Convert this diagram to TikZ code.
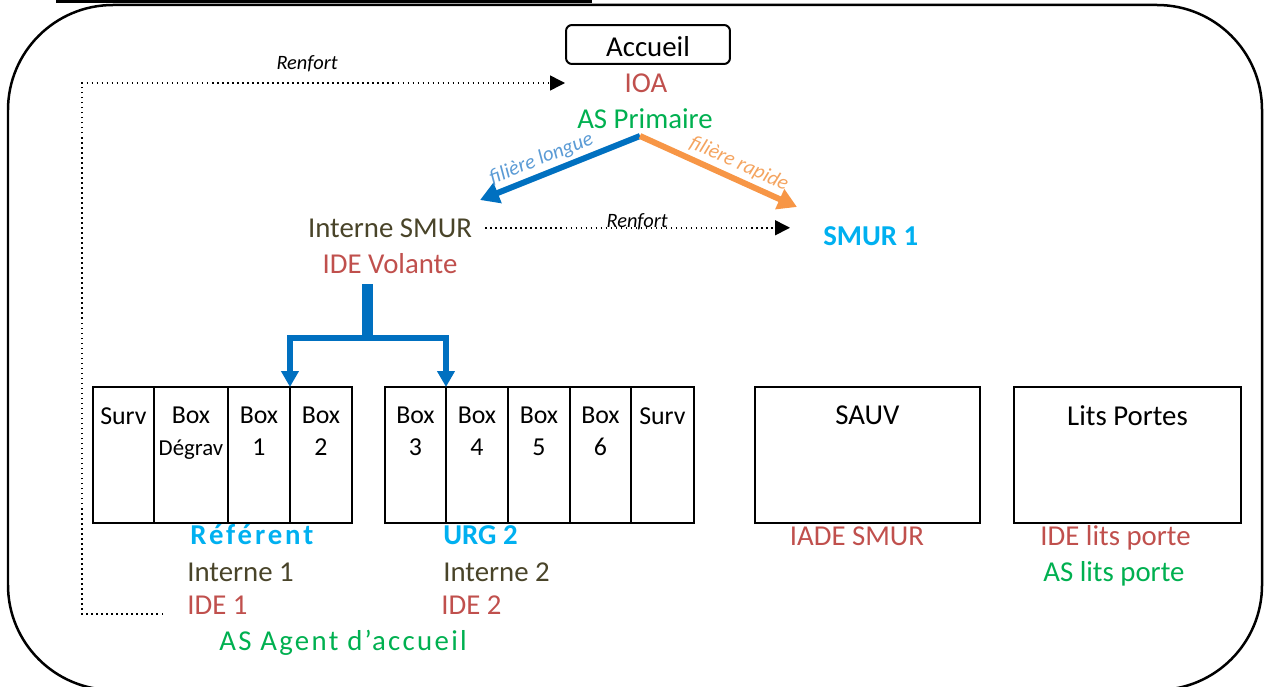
\documentclass[tikz,border=0pt]{standalone}
\usepackage{fontspec}
\setmainfont{Carlito}
\usetikzlibrary{arrows.meta,positioning}
\definecolor{rouge}{HTML}{C0504D}
\definecolor{vert}{HTML}{00B050}
\definecolor{olive}{HTML}{494429}
\definecolor{ciel}{HTML}{00B0F0}
\definecolor{bleu}{HTML}{0070C0}
\definecolor{bleuclair}{HTML}{5B9BD5}
\definecolor{orangef}{HTML}{F79646}
\definecolor{orangeclair}{HTML}{F4A460}

\begin{document}
\begin{tikzpicture}[x=0.02cm, y=-0.02cm,
    txt/.style={inner sep=0pt, font=\fontsize{16.4}{20}\selectfont},
    nom/.style={txt, anchor=base west},
    gras/.style={font=\fontsize{16.4}{20}\selectfont\bfseries\addfontfeature{LetterSpace=#1}},
    gras/.default=0,
    col/.style={draw, line width=0.04cm, minimum height=2.72cm, inner sep=0pt, outer sep=0pt},
    boxtxt/.style={anchor=north, inner sep=0pt, yshift=-0.4cm, align=center,
        font=\fontsize{14.7}{18.1}\selectfont},
    salletxt/.style={anchor=north, inner sep=0pt, yshift=-0.36cm, font=\fontsize{16.4}{20}\selectfont},
    renfort/.style={dotted, line width=0.03cm, -{Triangle[length=0.3cm,width=0.3cm]}},
    renlbl/.style={inner sep=0pt, font=\fontsize{11.6}{14}\selectfont\itshape},
    filiere/.style={line width=0.12cm, -{Triangle[length=0.38cm,width=0.42cm]}},
    fillbl/.style={inner sep=0.07cm, font=\fontsize{11.8}{14}\selectfont\itshape},
    arbre/.style={bleu, line width=0.12cm, -{Triangle[length=0.32cm,width=0.34cm]}}
  ]
    \useasboundingbox (0,0) rectangle (1266,686);
    \clip (0,0) rectangle (1266,686);
    \draw[line width=0.08cm] (56,1) -- (592,1);
    \draw[line width=0.05cm, rounded corners=2.1cm] (8,5) rectangle (1262,690);

    % accueil
    \node[draw, rounded corners=0.12cm, line width=0.04cm, txt, minimum width=3.28cm,
        minimum height=0.78cm, text height=0.5cm, text depth=0pt] (acc) at (648,44.5) {Accueil};
    \node[txt, anchor=base, text=rouge] (ioa) at (646,92) {IOA};
    \node[txt, anchor=base, text=vert] (asp) at (645,128) {AS Primaire};

    \node[txt, anchor=base, text=olive] (ism) at (390,237) {Interne SMUR};
    \node[txt, anchor=base, text=rouge] (ivol) at (390,273) {IDE Volante};
    \node[txt, gras, anchor=base west, text=ciel] (smur) at (823,245) {SMUR 1};

    \coordinate (dep) at (640,136);
    \coordinate (fl) at (480,200);
    \coordinate (fr) at (797,207);
    \draw[filiere, bleu] (dep) -- (fl)
        node[pos=0.58, sloped, above, fillbl, text=bleuclair] {filière longue};
    \draw[filiere, orangef] (dep) -- (fr)
        node[pos=0.59, sloped, above, fillbl, text=orangeclair] {filière rapide};

    \draw[renfort, shorten <=0.26cm, shorten >=0.66cm] (ism.east) -- (ism.east -| smur.west)
        node[pos=0.47, above=-0.06cm, renlbl] {Renfort};

    % boxes
    \node[col, minimum width=1.22cm, anchor=north west, label={[boxtxt]north:Surv}] (sv1) at (93,387) {};
    \node[col, minimum width=1.48cm, right=0pt of sv1,
        label={[boxtxt]north:{Box\\{\fontsize{13}{16}\selectfont Dégrav}}}] (bdg) {};
    \node[col, minimum width=1.24cm, right=0pt of bdg, label={[boxtxt]north:{Box\\1}}] (b1) {};
    \node[col, minimum width=1.24cm, right=0pt of b1, label={[boxtxt]north:{Box\\2}}] (b2) {};

    \node[col, minimum width=1.22cm, anchor=north west, label={[boxtxt]north:{Box\\3}}] (b3) at (385,387) {};
    \node[col, minimum width=1.24cm, right=0pt of b3, label={[boxtxt]north:{Box\\4}}] (b4) {};
    \node[col, minimum width=1.24cm, right=0pt of b4, label={[boxtxt]north:{Box\\5}}] (b5) {};
    \node[col, minimum width=1.22cm, right=0pt of b5, label={[boxtxt]north:{Box\\6}}] (b6) {};
    \node[col, minimum width=1.26cm, right=0pt of b6, label={[boxtxt]north:Surv}] (sv2) {};

    \node[col, minimum width=4.5cm, anchor=north west, label={[salletxt]north:SAUV}] (sauv) at (755,387) {};
    \node[col, minimum width=4.54cm, anchor=north west, label={[salletxt]north:Lits Portes}] (lp) at (1014,387) {};

    % volante
    \coordinate (tr) at (367,284);
    \coordinate (tj) at (367,338);
    \draw[bleu, line width=0.22cm] (tr) -- (tj);
    \draw[arbre] (tj) -| (b2.north west);
    \draw[arbre] (tj) -| (b4.north west);

    % equipes
    \node[nom, gras=10, text=ciel] (ref) at (190,544) {Référent};
    \node[nom, text=olive] (int1) at (187,581) {Interne 1};
    \node[nom, text=rouge] (ide1) at (187,614) {IDE 1};
    \node[nom, text=vert, font=\fontsize{16.4}{20}\selectfont\addfontfeature{LetterSpace=8}] (asacc) at (219,650) {AS Agent d’accueil};
    \node[nom, gras, text=ciel] (urg) at (443,544) {URG 2};
    \node[nom, text=olive] (int2) at (443,581) {Interne 2};
    \node[nom, text=rouge] (ide2) at (441,614) {IDE 2};
    \node[txt, anchor=base, text=rouge] (iade) at (857,545) {IADE SMUR};
    \node[nom, text=rouge] (idelp) at (1040,545) {IDE lits porte};
    \node[nom, text=vert] (aslp) at (1043,581) {AS lits porte};

    \coordinate (r1) at (163,614);
    \coordinate (rc) at (82,83);
    \coordinate (r2) at (565,83);
    \draw[renfort] (r1) -| (rc) -- (r2) node[pos=0.466, above=0.2cm, renlbl] {Renfort};
\end{tikzpicture}
\end{document}
